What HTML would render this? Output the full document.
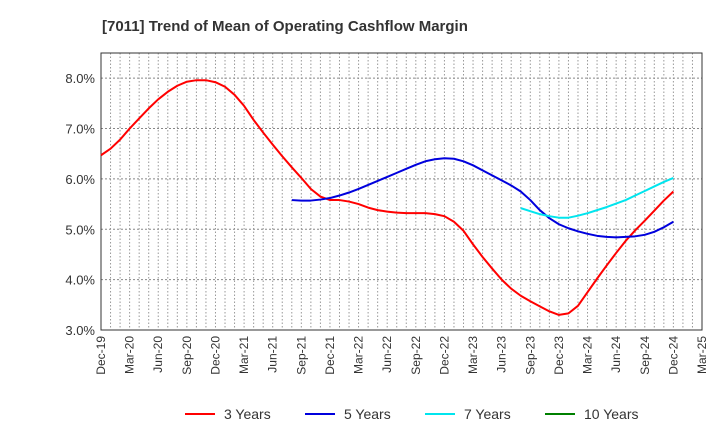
<!DOCTYPE html>
<html><head><meta charset="utf-8"><style>
body{margin:0;background:#fff;}
svg{font-family:"Liberation Sans",sans-serif;}
</style></head><body>
<svg id="chart" width="720" height="440" xmlns="http://www.w3.org/2000/svg">
<text x="102" y="31" font-size="15" font-weight="bold" fill="#333">[7011]  Trend of Mean of Operating Cashflow Margin</text>
<g id="grid"></g><g id="axes"></g><g id="series"></g><g id="legend"></g>
</svg>
<script>
const xLabels=["Dec-19","Mar-20","Jun-20","Sep-20","Dec-20","Mar-21","Jun-21","Sep-21","Dec-21","Mar-22","Jun-22","Sep-22","Dec-22","Mar-23","Jun-23","Sep-23","Dec-23","Mar-24","Jun-24","Sep-24","Dec-24","Mar-25"];
const yTicks=[3,4,5,6,7,8];
const s3start=0;
const s3=[6.47,6.6,6.78,7.0,7.2,7.4,7.58,7.73,7.85,7.93,7.96,7.96,7.92,7.83,7.67,7.45,7.17,6.92,6.68,6.45,6.23,6.02,5.8,5.65,5.58,5.58,5.55,5.5,5.43,5.38,5.35,5.33,5.32,5.32,5.32,5.3,5.26,5.15,4.97,4.7,4.45,4.22,4.0,3.82,3.68,3.57,3.47,3.37,3.3,3.33,3.48,3.75,4.02,4.28,4.53,4.77,4.98,5.17,5.37,5.57,5.75];
const s5start=20;
const s5=[5.58,5.57,5.57,5.59,5.62,5.67,5.73,5.8,5.88,5.96,6.04,6.12,6.2,6.28,6.35,6.39,6.41,6.4,6.35,6.27,6.17,6.07,5.97,5.87,5.75,5.58,5.38,5.22,5.1,5.02,4.96,4.91,4.87,4.85,4.84,4.85,4.86,4.89,4.95,5.04,5.15];
const s7start=44;
const s7=[5.42,5.36,5.3,5.26,5.23,5.23,5.27,5.32,5.38,5.44,5.51,5.58,5.67,5.76,5.85,5.94,6.02];
const s10=[];
const L=101,R=702,T=53,B=330,yMin=3,yMax=8.5,nMonths=63;
const NS="http://www.w3.org/2000/svg";
function X(m){return L+(R-L)*m/nMonths;}
function Y(v){return B-(B-T)*(v-yMin)/(yMax-yMin);}
function mk(tag,attrs,parent){const e=document.createElementNS(NS,tag);for(const k in attrs)e.setAttribute(k,attrs[k]);parent.appendChild(e);return e;}
const grid=document.getElementById('grid'),axes=document.getElementById('axes'),ser=document.getElementById('series'),leg=document.getElementById('legend');
for(let m=1;m<nMonths;m++){const l=mk('line',{x1:X(m),x2:X(m),y1:T,y2:B,stroke:'#999','stroke-dasharray':'1.5,2','stroke-width':1},grid);

}
yTicks.forEach(v=>{const l=mk('line',{x1:L,x2:R,y1:Y(v),y2:Y(v),stroke:'#888','stroke-dasharray':'2,2','stroke-width':1},grid);


const t=mk('text',{x:L-6,y:Y(v)+5,'text-anchor':'end','font-size':13,fill:'#333'},axes);t.textContent=v.toFixed(1)+'%';

});
xLabels.forEach((s,i)=>{const x=X(i*3);const t=mk('text',{transform:`translate(${x+4},${B+6}) rotate(-90)`,'text-anchor':'end','font-size':12,fill:'#333'},axes);t.textContent=s;

});
const frame=mk('rect',{x:L,y:T,width:R-L,height:B-T,fill:'none',stroke:'#333','stroke-width':1},axes);


function line(arr,start,color,name){if(!arr.length)return;const p=mk('polyline',{points:arr.map((v,i)=>X(start+i)+','+Y(v)).join(' '),fill:'none',stroke:color,'stroke-width':2,'stroke-linejoin':'round'},ser);

}
line(s3,s3start,'#ff0000','line-3-years');
line(s5,s5start,'#0000dd','line-5-years');
line(s7,s7start,'#00e5ee','line-7-years');
line(s10,0,'#008000','line-10-years');
[["3 Years","#ff0000",185],["5 Years","#0000dd",305],["7 Years","#00e5ee",425],["10 Years","#008000",545]].forEach(([n,c,x])=>{
const g=mk('g',{},leg);


mk('line',{x1:x,x2:x+30,y1:414,y2:414,stroke:c,'stroke-width':2},g);
const t=mk('text',{x:x+39,y:419,'font-size':14,fill:'#333'},g);t.textContent=n;});
</script>
</body></html>
